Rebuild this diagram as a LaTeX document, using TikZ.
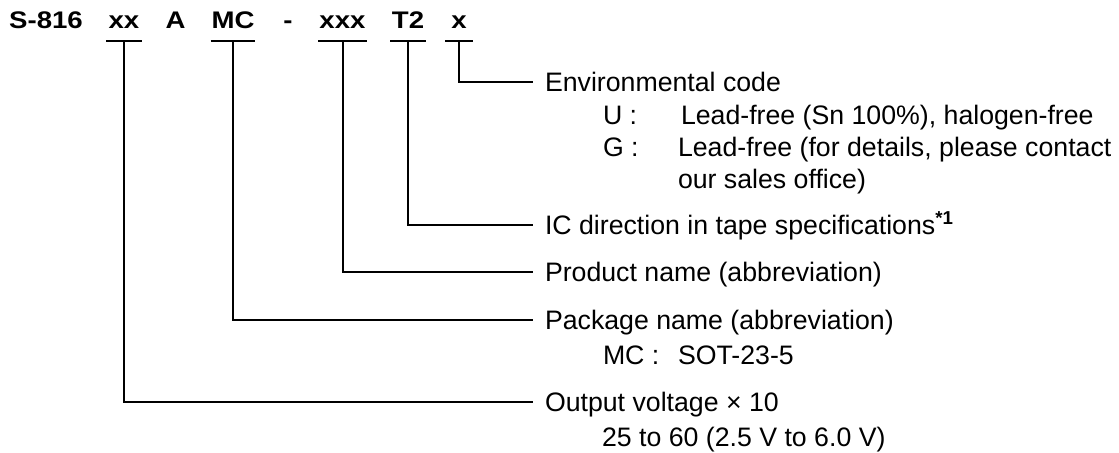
\documentclass[tikz,border=0pt]{standalone}
\usepackage{fontspec}
\setmainfont{Liberation Sans}
\newfontfamily\codefont[FakeStretch=1.15]{Liberation Sans}
\usepackage{tikz}
\usetikzlibrary{positioning}

\begin{document}
\begin{tikzpicture}[x=0.5pt, y=-0.5pt, line width=1pt,
  code/.style={font=\codefont\fontsize{12}{14}\selectfont\bfseries, anchor=base, inner xsep=0pt, inner ysep=6pt, text depth=0pt},
  lbl/.style={font=\fontsize{13.35}{16}\selectfont, anchor=west, inner xsep=5.5pt, inner ysep=0pt, text height=9.56pt, text depth=0pt},
  sub/.style={font=\fontsize{13.35}{16}\selectfont, anchor=base west, inner sep=0pt}]
\useasboundingbox (0,0) rectangle (1119,452);

% product code
\node[code] (base) at (46,28) {S-816};
\node[code, minimum width=17pt] (xx) at (124,28) {xx};
\node[code] (a) at (175.5,28) {A};
\node[code, minimum width=21pt] (mc) at (233,28) {MC};
\node[code] (dash) at (288,28) {-};
\node[code, minimum width=23.5pt] (xxx) at (342.5,28) {xxx};
\node[code, minimum width=17pt] (t2) at (408,28) {T2};
\node[code, minimum width=13pt] (x) at (459,28) {x};

% descriptions
\node[lbl] (env) at (533,82) {Environmental code};
\node[sub] (envU) at (602,124) {U :};
\node[sub] (envUtxt) at (680,124) {Lead-free (Sn 100\%), halogen-free};
\node[sub] (envG) at (602,156) {G :};
\node[sub] (envGtxt) at (677,156) {Lead-free (for details, please contact};
\node[sub] (envGtxt2) at (677,188) {our sales office)};
\node[lbl] (ic) at (533,225) {IC direction in tape specifications\textsuperscript{\bfseries *1}};
\node[lbl] (prod) at (533,272) {Product name (abbreviation)};
\node[lbl] (pkg) at (533,320) {Package name (abbreviation)};
\node[sub] (pkgMC) at (602,364) {MC :};
\node[sub] (pkgMCtxt) at (677,364) {SOT-23-5};
\node[lbl] (out) at (533,402) {Output voltage × 10};
\node[sub] (outRange) at (601,446) {25 to 60 (2.5 V to 6.0 V)};

% underlines
\foreach \c in {xx,mc,xxx,t2,x}
  \draw (\c.south west) -- (\c.south east);

% leaders
\draw (x.south) |- (env.west);
\draw (t2.south) |- (ic.west);
\draw (xxx.south) |- (prod.west);
\draw (mc.south) |- (pkg.west);
\draw (xx.south) |- (out.west);
\end{tikzpicture}
\end{document}
